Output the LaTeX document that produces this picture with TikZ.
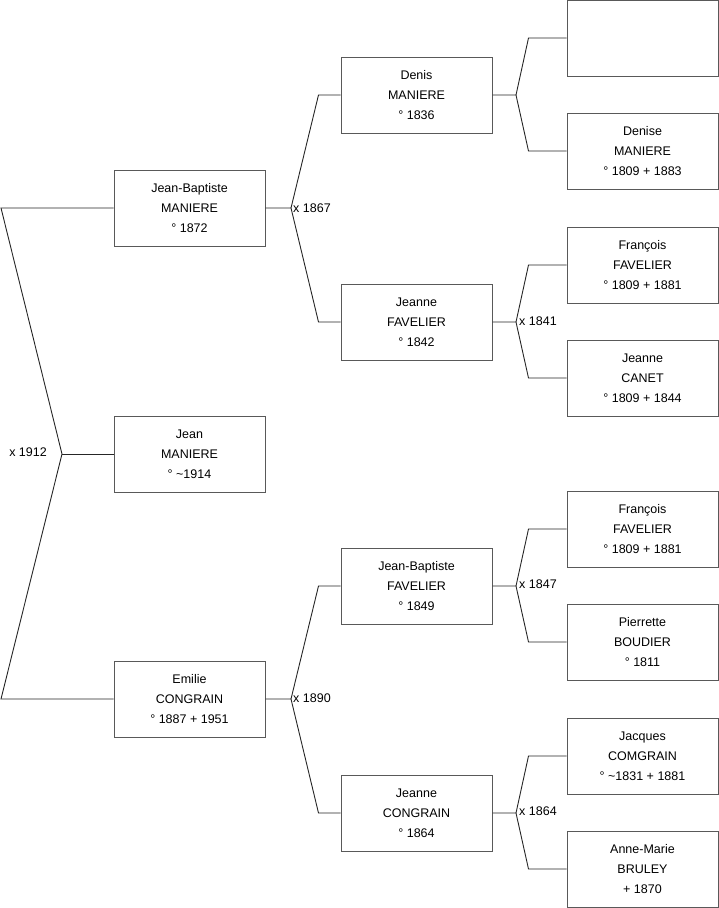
\documentclass[tikz,border=0pt]{standalone}
\usepackage{fontspec}
\setmainfont{Liberation Sans}
\begin{document}
\begin{tikzpicture}[x=1pt,y=-1pt,
  person/.style={draw=black!65,line width=1pt,fill=white,minimum width=151pt,minimum height=76pt,inner sep=0pt,align=center,font=\fontsize{12.5}{20}\selectfont},
  link/.style={draw=black!85,line width=0.9pt},
  mlabel/.style={font=\fontsize{12.5}{15}\selectfont,inner sep=0pt}]
\useasboundingbox (0,0) rectangle (719,908);
% generation 1
\node[person] (jbm) at (189.5,208) {Jean-Baptiste\\MANIERE\\° 1872};
\node[person] (jean) at (189.5,454) {Jean\\MANIERE\\° \textasciitilde1914};
\node[person] (emi) at (189.5,699) {Emilie\\CONGRAIN\\° 1887 + 1951};
% generation 2
\node[person] (den) at (416.5,95) {Denis\\MANIERE\\° 1836};
\node[person] (jfa) at (416.5,322) {Jeanne\\FAVELIER\\° 1842};
\node[person] (jbf) at (416.5,586) {Jean-Baptiste\\FAVELIER\\° 1849};
\node[person] (jco) at (416.5,813) {Jeanne\\CONGRAIN\\° 1864};
% generation 3
\node[person] (emp) at (642.5,38) {};
\node[person] (dse) at (642.5,151) {Denise\\MANIERE\\° 1809 + 1883};
\node[person] (fr1) at (642.5,265) {François\\FAVELIER\\° 1809 + 1881};
\node[person] (jca) at (642.5,378) {Jeanne\\CANET\\° 1809 + 1844};
\node[person] (fr2) at (642.5,529) {François\\FAVELIER\\° 1809 + 1881};
\node[person] (pbo) at (642.5,642) {Pierrette\\BOUDIER\\° 1811};
\node[person] (jac) at (642.5,756) {Jacques\\COMGRAIN\\° \textasciitilde1831 + 1881};
\node[person] (amb) at (642.5,869) {Anne-Marie\\BRULEY\\+ 1870};
% left bracket
\coordinate (l1) at (1,208);
\coordinate (v0) at (62,454);
\coordinate (l2) at (1,699);
\draw[link] (jbm.west) -- (l1) -- (v0) -- (l2) -- (emi.west);
\draw[link] (v0) -- (jean.west);
\node[mlabel,anchor=east] (m0) at (47,452) {x 1912};
% gen1 -> gen2
\coordinate (v1) at (291,208);
\draw[link] (jbm.east) -- (v1) -- ([xshift=-22pt]den.west) -- (den.west);
\draw[link] (v1) -- ([xshift=-22pt]jfa.west) -- (jfa.west);
\node[mlabel,anchor=west] (m1) at (293,208) {x 1867};
\coordinate (v2) at (291,699);
\draw[link] (emi.east) -- (v2) -- ([xshift=-22pt]jbf.west) -- (jbf.west);
\draw[link] (v2) -- ([xshift=-22pt]jco.west) -- (jco.west);
\node[mlabel,anchor=west] (m2) at (293,698) {x 1890};
% gen2 -> gen3
\coordinate (v3) at (516,95);
\draw[link] (den.east) -- (v3) -- ([xshift=-38pt]emp.west) -- (emp.west);
\draw[link] (v3) -- ([xshift=-38pt]dse.west) -- (dse.west);
\coordinate (v4) at (516,322);
\draw[link] (jfa.east) -- (v4) -- ([xshift=-38pt]fr1.west) -- (fr1.west);
\draw[link] (v4) -- ([xshift=-38pt]jca.west) -- (jca.west);
\node[mlabel,anchor=west] (m4) at (519,321) {x 1841};
\coordinate (v5) at (516,586);
\draw[link] (jbf.east) -- (v5) -- ([xshift=-38pt]fr2.west) -- (fr2.west);
\draw[link] (v5) -- ([xshift=-38pt]pbo.west) -- (pbo.west);
\node[mlabel,anchor=west] (m5) at (519,584) {x 1847};
\coordinate (v6) at (516,813);
\draw[link] (jco.east) -- (v6) -- ([xshift=-38pt]jac.west) -- (jac.west);
\draw[link] (v6) -- ([xshift=-38pt]amb.west) -- (amb.west);
\node[mlabel,anchor=west] (m6) at (519,811) {x 1864};
\end{tikzpicture}
\end{document}
